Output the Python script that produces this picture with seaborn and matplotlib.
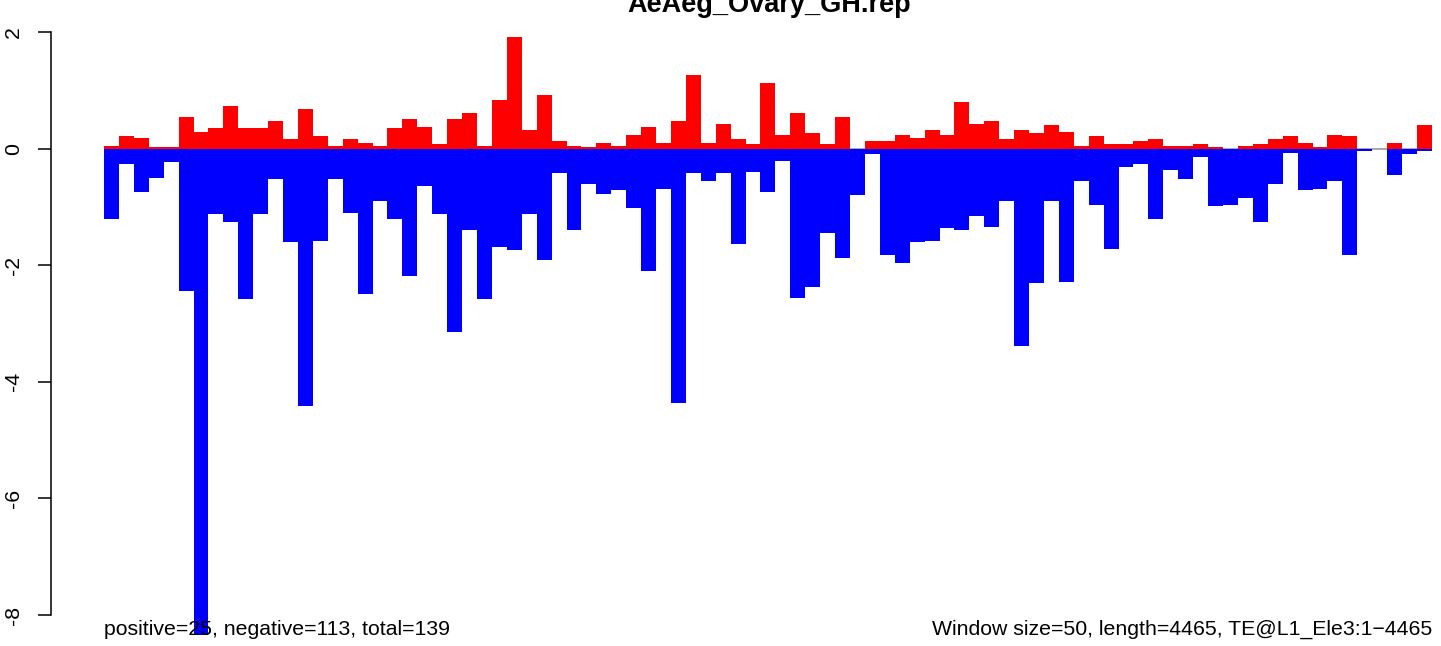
import numpy as np
import pandas as pd
import matplotlib
matplotlib.use("Agg")
import matplotlib.pyplot as plt
import seaborn as sns

# valores (una barra por ventana de 50 pb)
titulo = "AeAeg_Ovary_GH.rep"
texto_izq = "positive=25, negative=113, total=139"
texto_der = "Window size=50, length=4465, TE@L1_Ele3:1\u22124465"

positivos = [0.05, 0.22, 0.18, 0.03, 0.03, 0.54, 0.29, 0.35, 0.73, 0.35, 0.35, 0.47,
             0.17, 0.68, 0.22, 0.05, 0.17, 0.10, 0.05, 0.35, 0.51, 0.37, 0.08,
             0.51, 0.61, 0.05, 0.83, 1.91, 0.32, 0.92, 0.13, 0.05, 0.03, 0.10, 0.05,
             0.23, 0.37, 0.10, 0.47, 1.26, 0.10, 0.42, 0.17, 0.08,
             1.13, 0.23, 0.61, 0.27, 0.08, 0.54, 0.0, 0.13, 0.13, 0.23, 0.18, 0.32,
             0.23, 0.80, 0.42, 0.47, 0.17, 0.32, 0.27, 0.41, 0.29, 0.05,
             0.22, 0.08, 0.08, 0.13, 0.17, 0.05, 0.05, 0.08, 0.03, 0.0, 0.05, 0.08,
             0.17, 0.22, 0.10, 0.03, 0.23, 0.22, 0.0, 0.0, 0.10, 0.0, 0.41]
negativos = [-1.20, -0.26, -0.74, -0.50, -0.23, -2.44, -8.34, -1.12, -1.26, -2.58, -1.12,
             -0.52, -1.60, -4.41, -1.58, -0.52, -1.10, -2.49, -0.90, -1.20, -2.19, -0.64,
             -1.12,
             -3.14, -1.39, -2.58, -1.69, -1.74, -1.12, -1.91, -0.42, -1.39, -0.61, -0.78,
             -0.71, -1.02, -2.10, -0.69, -4.36, -0.42, -0.55, -0.42, -1.63, -0.40,
             -0.74, -0.21, -2.56, -2.37, -1.45, -1.87, -0.79, -0.09, -1.82, -1.96, -1.60,
             -1.58, -1.36, -1.39, -1.15, -1.34, -0.90, -3.38, -2.30, -0.90, -2.29, -0.55,
             -0.97, -1.72, -0.31, -0.26, -1.21, -0.37, -0.52, -0.14, -0.98, -0.97, -0.85,
             -1.26, -0.61, -0.07, -0.71, -0.69, -0.55, -1.82, -0.04, 0.0, -0.45, -0.09,
             -0.04]
ticks_y = [-8, -6, -4, -2, 0, 2]

sns.set_style("white")
plt.rcParams['font.family'] = ['Liberation Sans', 'DejaVu Sans']
plt.rcParams['axes.unicode_minus'] = False
plt.rcParams['text.color'] = 'black'
plt.rcParams['ytick.color'] = 'black'
plt.rcParams['ytick.labelcolor'] = 'black'

n = len(positivos)
df = pd.DataFrame({'ventana': np.arange(n), 'pos': positivos, 'neg': negativos})

W, H = 1441, 646
fig = plt.figure(figsize=(W / 100, H / 100), dpi=100)

# geometria en pixeles: x0=104 inicio, 14.92 px por ventana, cero en y=148.7, 58.3 px por unidad
px_bin = 14.92
x_ini = 104
y_cero = 148.7
px_uni = 58.3
xlim = ((51 - x_ini) / px_bin - 0.5, 90.0)
ylim = (-8.6, 2.2)
izq = x_ini + (xlim[0] + 0.5) * px_bin
der = x_ini + (xlim[1] + 0.5) * px_bin
arr = y_cero - ylim[1] * px_uni
aba = y_cero - ylim[0] * px_uni
ax = fig.add_axes([izq / W, 1 - aba / H, (der - izq) / W, (aba - arr) / H])

ax.hlines(0, -0.5, n - 0.5, color='#999999', lw=1.2, zorder=1)
sns.barplot(data=df, x='ventana', y='pos', color='#ff0000', saturation=1,
            width=1, linewidth=0, edgecolor='none', errorbar=None, ax=ax, zorder=2)
sns.barplot(data=df, x='ventana', y='neg', color='#0000ff', saturation=1,
            width=1, linewidth=0, edgecolor='none', errorbar=None, ax=ax, zorder=2)

ax.set_xlim(*xlim)
ax.set_ylim(*ylim)
ax.set_xlabel('')
ax.set_ylabel('')
ax.set_xticks([])
ax.set_yticks(ticks_y)
ax.set_yticklabels([str(t) for t in ticks_y], rotation=90, va='center')
ax.tick_params(axis='y', length=9.4, width=1.1, pad=11, labelsize=15.3, color='black',
               labelcolor='black', left=True)
for s in ['top', 'right', 'bottom']:
    ax.spines[s].set_visible(False)
ax.spines['left'].set_bounds(-8, 2)
ax.spines['left'].set_linewidth(1.1)
ax.spines['left'].set_color('black')
ax.patch.set_alpha(0)

fig.text(769 / W, 1 - 12 / H, titulo, ha='center', va='baseline',
         fontsize=19.5, fontweight='bold', color='black')
fig.text(x_ini / W, 1 - 635 / H, texto_izq, ha='left', va='baseline',
         fontsize=15.3, color='black', zorder=5)
fig.text(1432 / W, 1 - 635 / H, texto_der, ha='right', va='baseline',
         fontsize=15.3, color='black', zorder=5)

fig.savefig('out.png', dpi=100)
